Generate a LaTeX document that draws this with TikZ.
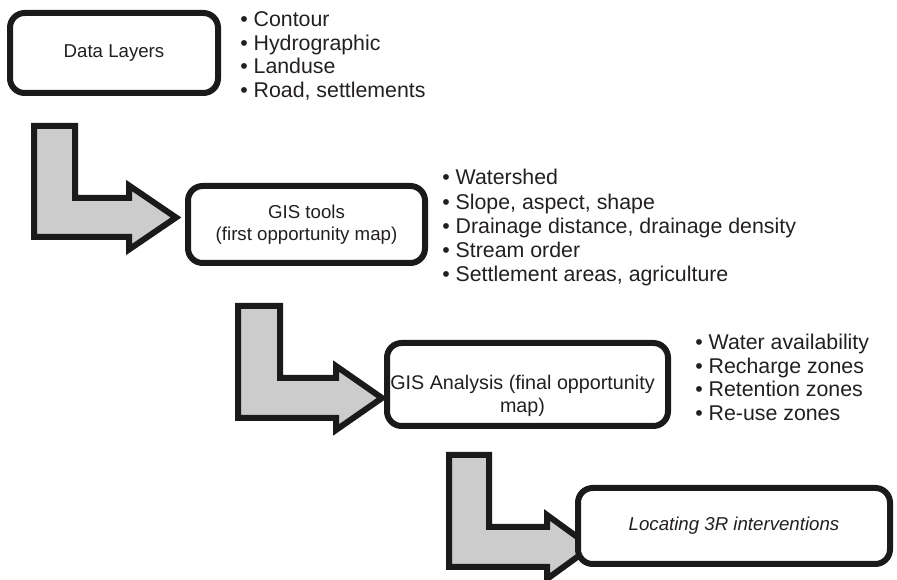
\documentclass[tikz,border=0pt]{standalone}
\usepackage{fontspec}
\setmainfont{Liberation Sans}
\usetikzlibrary{shadows}
\definecolor{txt}{HTML}{231F20}
\definecolor{arrowfill}{HTML}{CCCCCC}
\definecolor{edge}{HTML}{1A1A1A}
\tikzset{
  softshadow/.style={drop shadow={shadow xshift=1pt, shadow yshift=-1.5pt, opacity=0.25}},
  stepbox/.style={draw=edge, line width=4.5pt, fill=white, rounded corners=11pt,
    inner sep=0pt, text=txt, align=center, font=\fontsize{14}{16.8}\selectfont, softshadow},
  boxtext/.style={inner sep=0pt, text=txt, align=center, font=\fontsize{14}{16.8}\selectfont},
  item/.style={anchor=base west, inner sep=0pt, text=txt, font=\fontsize{16}{19}\selectfont},
  bentarrow/.style={draw=edge, fill=arrowfill, line width=4.5pt, line join=miter, softshadow},
}
\begin{document}
\begin{tikzpicture}[x=0.75pt, y=-0.75pt]
\path[use as bounding box] (0,0) rectangle (897,580);

% bent arrows (drawn first, boxes on top)
\draw[bentarrow] (34,126) -- (75,126) -- (75,198) -- (129,198) -- (129,185.5)
  -- (176,217.5) -- (129,249.5) -- (129,237) -- (34,237) -- cycle;
\draw[bentarrow] (238,306) -- (280,306) -- (280,378) -- (336,378) -- (336,366)
  -- (382,398) -- (336,430) -- (336,418) -- (238,418) -- cycle;
\draw[bentarrow] (449,455) -- (489,455) -- (489,527) -- (547,527) -- (547,515)
  -- (591,547) -- (547,579) -- (547,567) -- (449,567) -- cycle;

% boxes
\node[stepbox, minimum width=156pt, minimum height=60pt] (b1) at (114,53) {Data Layers};
\node[stepbox, minimum width=177.75pt, minimum height=57.75pt] (b2) at (306.5,224.5)
  {GIS tools\\(first opportunity map)};
\node[stepbox, minimum width=210.75pt, minimum height=62.25pt] (b3) at (527.5,384.5) {};
\node[boxtext, font=\fontsize{14.8}{17.6}\selectfont] (b3t) at (522.5,396)
  {GIS Analysis (final opportunity\\map)};
\node[stepbox, minimum width=234pt, minimum height=57pt, font=\fontsize{14}{16.8}\selectfont\itshape]
  (b4) at (734,526) {Locating 3R interventions};

% bullet lists
\foreach \t [count=\i] in {Contour, Hydrographic, Landuse, {Road, settlements}}
  \node[item] (la\i) at (240,{27+23.5*(\i-1)}) {• \t};
\foreach \t [count=\i] in {Watershed, {Slope, aspect, shape}, {Drainage distance, drainage density}, Stream order, {Settlement areas, agriculture}}
  \node[item] (lb\i) at (442,{185+24.2*(\i-1)}) {• \t};
\foreach \t [count=\i] in {Water availability, Recharge zones, Retention zones, Re-use zones}
  \node[item] (lc\i) at (695,{350+23.5*(\i-1)}) {• \t};
\end{tikzpicture}
\end{document}
